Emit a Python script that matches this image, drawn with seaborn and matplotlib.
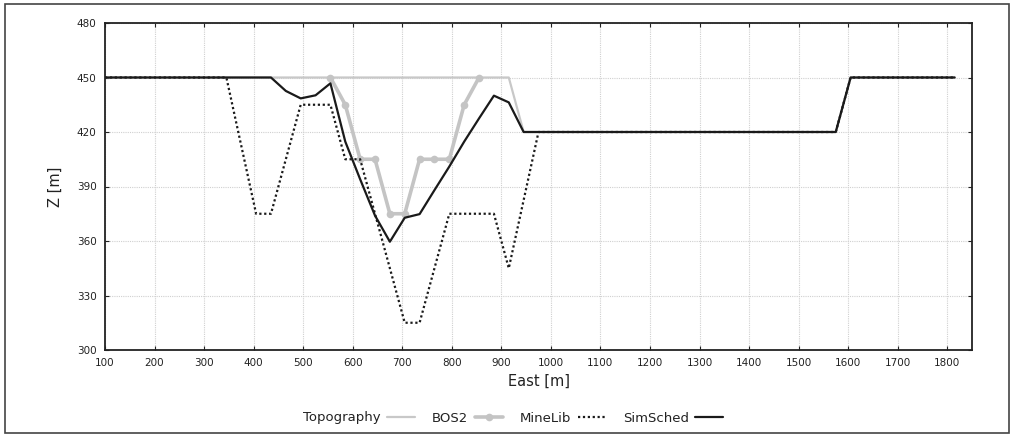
import matplotlib
matplotlib.use("Agg")
import matplotlib.pyplot as plt
import seaborn as sns
import pandas as pd
from matplotlib.patches import Rectangle

# ---- data ----
topo_x = [100, 915, 945, 1575, 1605, 1815]
topo_z = [450, 450, 420, 420, 450, 450]

bos2_x = [555, 585, 615, 645, 675, 705, 735, 765, 795, 825, 855]
bos2_z = [450, 435, 405, 405, 375, 375, 405, 405, 405, 435, 450]

minelib_x = [100, 345, 405, 435, 495, 555, 585, 615, 705, 735, 795, 885, 915, 975, 1575, 1605, 1815]
minelib_z = [450, 450, 375, 375, 435, 435, 405, 405, 315, 315, 375, 375, 345, 420, 420, 450, 450]

simsched_x = [100, 435, 465, 495, 525, 555, 585, 615, 645, 675, 705, 735, 765, 795, 825, 855,
              885, 915, 945, 1575, 1605, 1815]
simsched_z = [450, 450, 442.6, 438.5, 440.2, 446.8, 414.7, 394, 374, 359.6, 372.8, 374.8, 388,
              401, 414.7, 427.5, 440, 436.3, 420, 420, 450, 450]

x_ticks = list(range(100, 1801, 100))
y_ticks = list(range(300, 481, 30))

sns.set_style("ticks")
plt.rcParams['font.family'] = ['DejaVu Sans']

fig = plt.figure(figsize=(10.14, 4.38), dpi=100)
ax = fig.add_axes([105/1014, 1-350/438, (972-105)/1014, (350-23)/438])

df_topo = pd.DataFrame({"x": topo_x, "z": topo_z})
df_bos = pd.DataFrame({"x": bos2_x, "z": bos2_z})
df_ml = pd.DataFrame({"x": minelib_x, "z": minelib_z})
df_ss = pd.DataFrame({"x": simsched_x, "z": simsched_z})

sns.lineplot(data=df_topo, x="x", y="z", ax=ax, color="#c8c8c8", lw=1.6,
             sort=False, label="Topography", estimator=None)
sns.lineplot(data=df_bos, x="x", y="z", ax=ax, color="#c4c4c4", lw=2.6, marker="o",
             markersize=5.5, markeredgewidth=0, sort=False, label="BOS2", estimator=None)
sns.lineplot(data=df_ml, x="x", y="z", ax=ax, color="#1a1a1a", lw=1.6, linestyle=(0, (1, 1.2)),
             sort=False, label="MineLib", estimator=None)
sns.lineplot(data=df_ss, x="x", y="z", ax=ax, color="#1a1a1a", lw=1.6,
             sort=False, label="SimSched", estimator=None)

ax.set_xlim(100, 1850)
ax.set_ylim(300, 480)
ax.set_xticks(x_ticks)
ax.set_yticks(y_ticks)
ax.grid(True, color="#d0d0d0", linestyle=(0, (1, 1)), lw=0.8)
ax.tick_params(direction="in", top=True, right=True, length=3, width=0.8,
               labelsize=7.5, colors="#222222", pad=6)
ax.tick_params(labeltop=False, labelright=False)
for s in ax.spines.values():
    s.set_color("#222222")
    s.set_linewidth(1.3)
ax.set_xlabel("East [m]", fontsize=10.5, color="#222222", labelpad=4)
ax.set_ylabel("Z [m]", fontsize=10.5, color="#222222", labelpad=10)

leg = ax.legend(loc="center", bbox_to_anchor=(513/1014, 1-418/438), bbox_transform=fig.transFigure,
                ncol=4, frameon=False, markerfirst=False, fontsize=9.5, handlelength=2.1,
                columnspacing=1.3, handletextpad=0.5)
for t in leg.get_texts():
    t.set_color("#222222")

fig.patches.append(Rectangle((5/1014, 5/438), 1004/1014, 429/438, transform=fig.transFigure,
                             fill=False, edgecolor="#444444", lw=1.2))

fig.savefig("out.png", dpi=100)
